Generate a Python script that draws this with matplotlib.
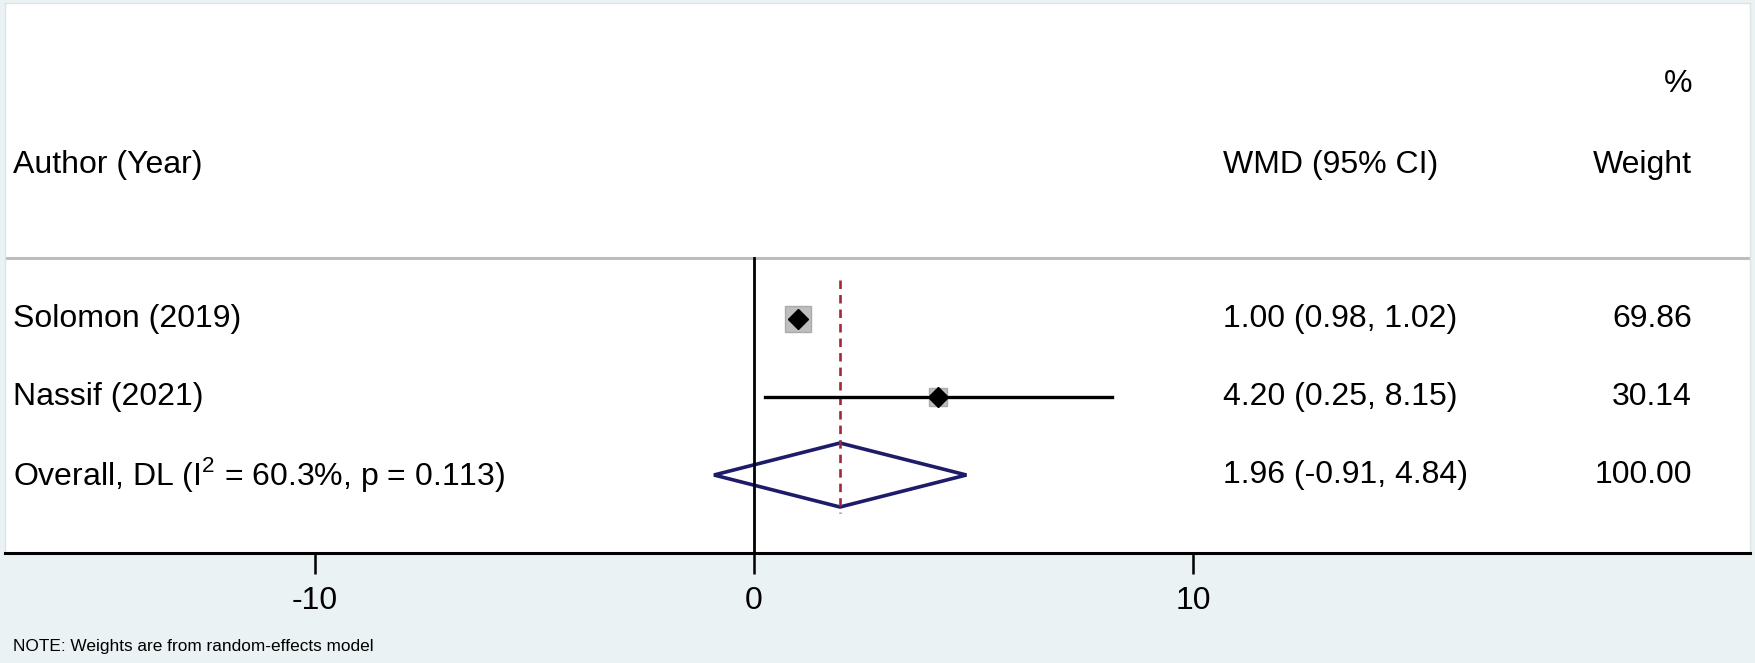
import numpy as np
import matplotlib.pyplot as plt
from matplotlib import transforms
from matplotlib.patches import Polygon

plt.rcParams['font.family'] = ['Liberation Sans', 'DejaVu Sans']
plt.rcParams['mathtext.fontset'] = 'custom'
plt.rcParams['mathtext.rm'] = 'Liberation Sans'
plt.rcParams['axes.unicode_minus'] = False

# study data
studies = ["Solomon (2019)", "Nassif (2021)"]
wmd = [1.00, 4.20]
ci_low = [0.98, 0.25]
ci_high = [1.02, 8.15]
weights = [69.86, 30.14]

# pooled estimate
overall_label = r"Overall, DL (I$^{\mathrm{2}}$ = 60.3%, p = 0.113)"
overall_wmd = 1.96
overall_low = -0.91
overall_high = 4.84
overall_weight = 100.00

x_ticks = [-10, 0, 10]
x_range = (-17.06, 22.69)

# layout in pixels of the 1755x663 canvas
W, H = 1755, 663
ax_left, ax_right, ax_top, ax_bottom = 5, 1750, 3, 553
row_y = [319, 397]
overall_y = 475
header_y = 165
col_author, col_ci, col_weight = 13, 1223, 1692
fs = 23

fig = plt.figure(figsize=(W / 100, H / 100), dpi=100, facecolor='#EAF2F3')
ax = fig.add_axes([ax_left / W, (H - ax_bottom) / H,
                   (ax_right - ax_left) / W, (ax_bottom - ax_top) / H])
ax.set_facecolor('white')
ax.set_xlim(*x_range)
ax.set_ylim(ax_bottom, ax_top)

for side in ['top', 'right', 'left']:
    ax.spines[side].set_color('#DDE4E6')
    ax.spines[side].set_linewidth(1)
ax.spines['bottom'].set_color('black')
ax.spines['bottom'].set_linewidth(2.2)

ax.set_xticks(x_ticks)
ax.set_yticks([])
ax.tick_params(axis='x', length=15, width=1.8, labelsize=fs, pad=9, direction='out')

# header separator
ax.axhline(258, color='#BDBDBD', lw=2.2)

# line of no effect
ax.plot([0, 0], [258, ax_bottom], color='black', lw=2)

# pooled estimate line
ax.plot([overall_wmd, overall_wmd], [280, 513], color='#A0283A', lw=1.9,
        ls=(0, (3.2, 2.3)))

# study estimates
for i in range(len(studies)):
    y = row_y[i]
    ax.plot([ci_low[i], ci_high[i]], [y, y], color='black', lw=2.4)
    ax.plot(wmd[i], y, marker='s', ms=2.32 * np.sqrt(weights[i]),
            mfc='#BEBEBE', mec='#ABABAB', mew=1)
    ax.plot(wmd[i], y, marker='D', ms=10.5, color='black')

# pooled diamond
diamond = Polygon([(overall_low, overall_y), (overall_wmd, overall_y - 32),
                   (overall_high, overall_y), (overall_wmd, overall_y + 32)],
                  closed=True, fill=False, edgecolor='#1C1C6B', lw=2.6)
ax.add_patch(diamond)

# text columns
tr = transforms.blended_transform_factory(fig.transFigure, ax.transData)
ax.text(col_weight / W, 84, "%", transform=tr, ha='right', va='center', fontsize=fs)
ax.text(col_author / W, header_y, "Author (Year)", transform=tr, ha='left', va='center', fontsize=fs)
ax.text(col_ci / W, header_y, "WMD (95% CI)", transform=tr, ha='left', va='center', fontsize=fs)
ax.text(col_weight / W, header_y, "Weight", transform=tr, ha='right', va='center', fontsize=fs)

for i in range(len(studies)):
    y = row_y[i]
    ax.text(col_author / W, y, studies[i], transform=tr, ha='left', va='center', fontsize=fs)
    ax.text(col_ci / W, y, f"{wmd[i]:.2f} ({ci_low[i]:.2f}, {ci_high[i]:.2f})",
            transform=tr, ha='left', va='center', fontsize=fs)
    ax.text(col_weight / W, y, f"{weights[i]:.2f}", transform=tr, ha='right', va='center', fontsize=fs)

ax.text(col_author / W, overall_y, overall_label, transform=tr, ha='left', va='center', fontsize=fs)
ax.text(col_ci / W, overall_y, f"{overall_wmd:.2f} ({overall_low:.2f}, {overall_high:.2f})",
        transform=tr, ha='left', va='center', fontsize=fs)
ax.text(col_weight / W, overall_y, f"{overall_weight:.2f}", transform=tr, ha='right', va='center', fontsize=fs)

fig.text(col_author / W, 1 - 647 / H, "NOTE: Weights are from random-effects model",
         ha='left', va='center', fontsize=12.4)

fig.savefig('out.png', dpi=100, facecolor=fig.get_facecolor())
